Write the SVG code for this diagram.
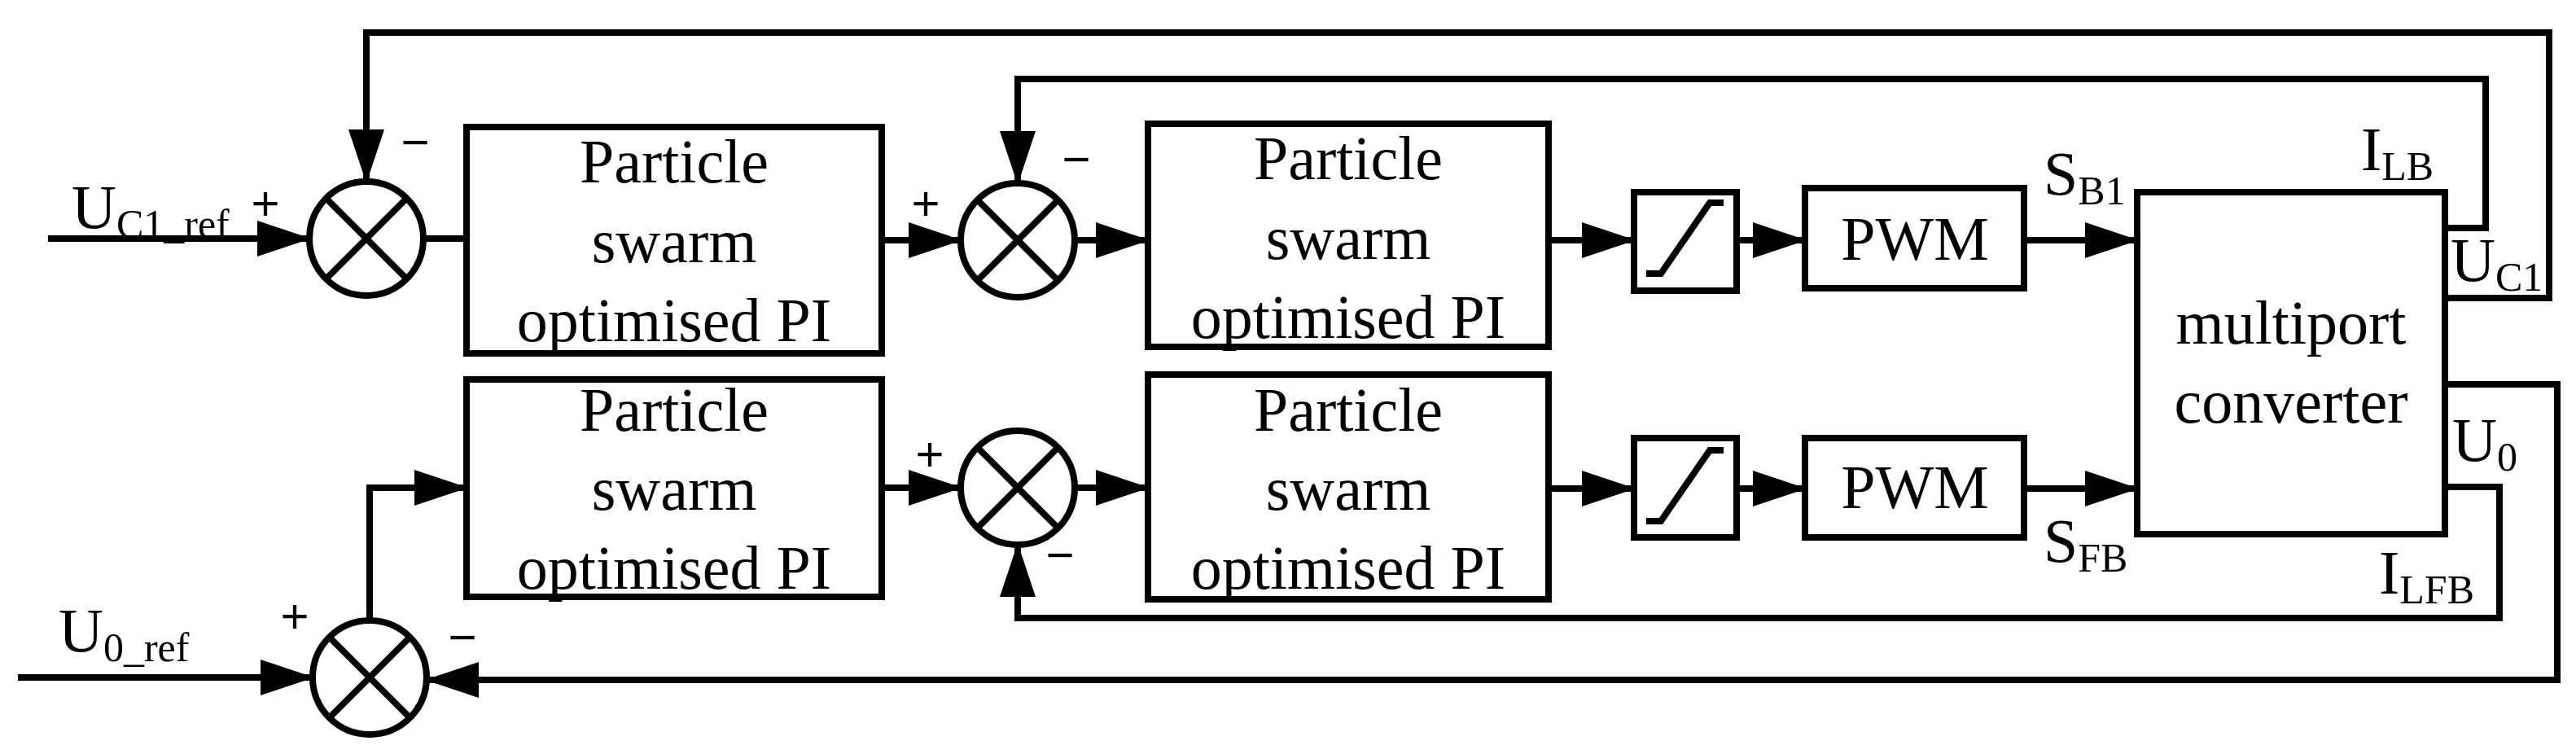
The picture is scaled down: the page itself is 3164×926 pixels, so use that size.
<svg xmlns="http://www.w3.org/2000/svg" width="3164" height="926" viewBox="0 0 3164 926">
<style>
.l{fill:none;stroke:#000;stroke-width:8}
.b{fill:#fff;stroke:#000;stroke-width:8}
.t{font-family:"Liberation Serif",serif;font-size:76px;fill:#000}
.s{font-family:"Liberation Serif",serif;font-size:50px}
.g{font-family:"Liberation Sans",sans-serif;font-size:60px;fill:#000}
</style>
<defs>
<marker id="a" markerUnits="userSpaceOnUse" markerWidth="66" markerHeight="44" refX="64" refY="22" orient="auto"><path d="M0,0L66,22L0,44z" fill="#000"/></marker>
</defs>
<rect width="3164" height="926" fill="#fff"/>
<g id="connectors">
<path class="l" d="M59,293H380" marker-end="url(#a)"/>
<path class="l" d="M521,293H573"/>
<path class="l" d="M3003,366H3131V40H450V223" marker-end="url(#a)"/>
<path class="l" d="M1083,295H1180" marker-end="url(#a)"/>
<path class="l" d="M3003,280H3053V97H1250V225" marker-end="url(#a)"/>
<path class="l" d="M1320,295H1410" marker-end="url(#a)"/>
<path class="l" d="M1902,295H2007" marker-end="url(#a)"/>
<path class="l" d="M2133,295H2217" marker-end="url(#a)"/>
<path class="l" d="M2486,295H2625" marker-end="url(#a)"/>
<path class="l" d="M22,832H384" marker-end="url(#a)"/>
<path class="l" d="M454,762V599H573" marker-end="url(#a)"/>
<path class="l" d="M3003,472H3141V835H524" marker-end="url(#a)"/>
<path class="l" d="M1083,599H1180" marker-end="url(#a)"/>
<path class="l" d="M3003,598H3070V759H1250V669" marker-end="url(#a)"/>
<path class="l" d="M1320,599H1410" marker-end="url(#a)"/>
<path class="l" d="M1902,600H2007" marker-end="url(#a)"/>
<path class="l" d="M2133,600H2217" marker-end="url(#a)"/>
<path class="l" d="M2486,600H2625" marker-end="url(#a)"/>
</g>
<g id="sum1"><circle class="b" cx="450" cy="293" r="70"/><path class="l" d="M400,243L500,343M500,243L400,343"/></g>
<g id="sum2"><circle class="b" cx="1250" cy="295" r="70"/><path class="l" d="M1200,245L1300,345M1300,245L1200,345"/></g>
<g id="sum3"><circle class="b" cx="454" cy="832" r="70"/><path class="l" d="M404,782L504,882M504,782L404,882"/></g>
<g id="sum4"><circle class="b" cx="1250" cy="599" r="70"/><path class="l" d="M1200,549L1300,649M1300,549L1200,649"/></g>
<g id="pi1"><rect class="b" x="573" y="156" width="510" height="278"/><text class="t" text-anchor="middle" x="828" y="224">Particle</text><text class="t" text-anchor="middle" x="828" y="322">swarm</text><text class="t" text-anchor="middle" x="828" y="419">optimised PI</text></g>
<g id="pi2"><rect class="b" x="1410" y="152" width="492" height="274"/><text class="t" text-anchor="middle" x="1656" y="220">Particle</text><text class="t" text-anchor="middle" x="1656" y="318">swarm</text><text class="t" text-anchor="middle" x="1656" y="415">optimised PI</text></g>
<g id="pi3"><rect class="b" x="573" y="466" width="510" height="267"/><text class="t" text-anchor="middle" x="828" y="529">Particle</text><text class="t" text-anchor="middle" x="828" y="626">swarm</text><text class="t" text-anchor="middle" x="828" y="723">optimised PI</text></g>
<g id="pi4"><rect class="b" x="1410" y="460" width="492" height="276"/><text class="t" text-anchor="middle" x="1656" y="529">Particle</text><text class="t" text-anchor="middle" x="1656" y="626">swarm</text><text class="t" text-anchor="middle" x="1656" y="723">optimised PI</text></g>
<g id="sat1"><rect class="b" x="2007" y="236" width="126" height="121"/><path class="l" d="M2022,336H2040L2100,249H2117" stroke-width="6"/></g>
<g id="sat2"><rect class="b" x="2007" y="538" width="126" height="122"/><path class="l" d="M2022,640H2040L2100,553H2117" stroke-width="6"/></g>
<g id="pwm1"><rect class="b" x="2217" y="231" width="269" height="123"/><text class="t" text-anchor="middle" x="2352" y="319">PWM</text></g>
<g id="pwm2"><rect class="b" x="2217" y="538" width="269" height="122"/><text class="t" text-anchor="middle" x="2352" y="624">PWM</text></g>
<g id="conv"><rect class="b" x="2625" y="236" width="378" height="420"/><text class="t" text-anchor="middle" x="2814" y="422">multiport</text><text class="t" text-anchor="middle" x="2814" y="519">converter</text></g>
<g id="labels">
<text class="t" x="88" y="280">U<tspan class="s" dy="12">C1_ref</tspan></text>
<text class="t" x="72" y="800">U<tspan class="s" dy="12">0_ref</tspan></text>
<text class="t" x="2510" y="239">S<tspan class="s" dy="12">B1</tspan></text>
<text class="t" x="2510" y="690">S<tspan class="s" dy="12">FB</tspan></text>
<text class="t" x="2900" y="209">I<tspan class="s" dy="12">LB</tspan></text>
<text class="t" x="3010" y="345">U<tspan class="s" dy="12">C1</tspan></text>
<text class="t" x="3012" y="566">U<tspan class="s" dy="12">0</tspan></text>
<text class="t" x="2922" y="729">I<tspan class="s" dy="12">LFB</tspan></text>
<text class="g" text-anchor="middle" x="326" y="270">+</text>
<text class="g" text-anchor="middle" x="510" y="195">−</text>
<text class="g" text-anchor="middle" x="1137" y="270">+</text>
<text class="g" text-anchor="middle" x="1322" y="216">−</text>
<text class="g" text-anchor="middle" x="1142" y="578">+</text>
<text class="g" text-anchor="middle" x="1302" y="702">−</text>
<text class="g" text-anchor="middle" x="362" y="777">+</text>
<text class="g" text-anchor="middle" x="568" y="803">−</text>
</g>
</svg>
